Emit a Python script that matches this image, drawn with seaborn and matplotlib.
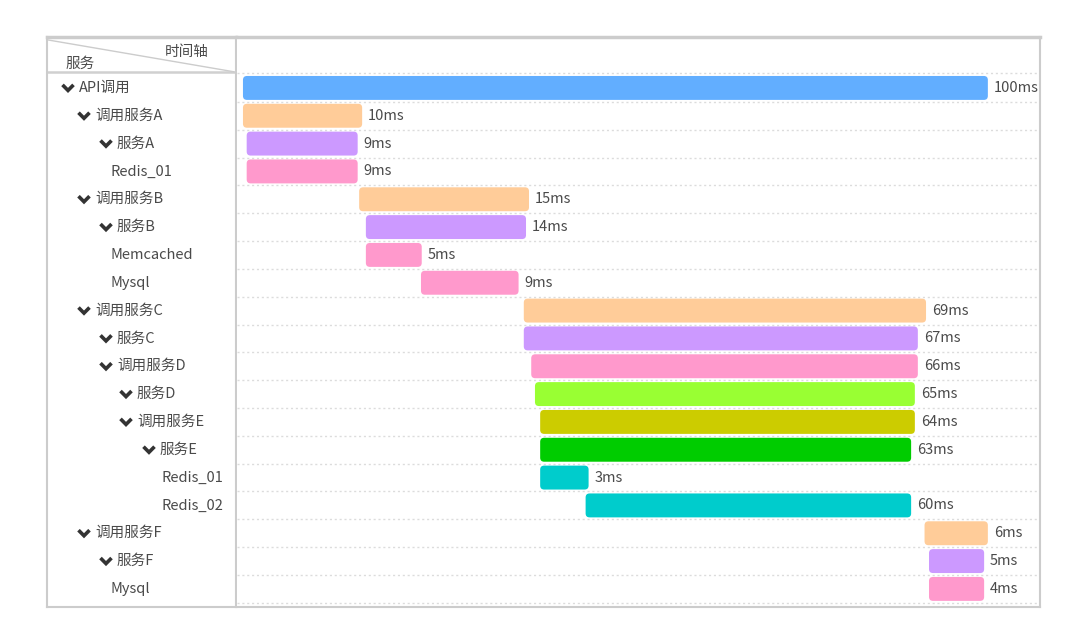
import pandas as pd
import matplotlib
matplotlib.use("Agg")
import matplotlib.pyplot as plt
from matplotlib.patches import FancyBboxPatch
import seaborn as sns

# span tree (label, depth, has children)
labels = ["API调用", "调用服务A", "服务A", "Redis_01", "调用服务B", "服务B", "Memcached", "Mysql",
          "调用服务C", "服务C", "调用服务D", "服务D", "调用服务E", "服务E", "Redis_01", "Redis_02",
          "调用服务F", "服务F", "Mysql"]
depth = [0, 1, 2, 3, 1, 2, 3, 3, 1, 2, 2, 3, 3, 4, 5, 5, 1, 2, 3]
has_children = [1, 1, 1, 0, 1, 1, 0, 0, 1, 1, 1, 1, 1, 1, 0, 0, 1, 1, 0]

# bar extents on the time axis (as drawn) and the duration text shown
start = [0, 0, 0.5, 0.5, 15.6, 16.5, 16.5, 23.9, 37.7, 37.7, 38.7, 39.2, 39.9, 39.9, 39.9, 46.0, 91.5, 92.1, 92.1]
end = [100, 16.0, 15.4, 15.4, 38.4, 38.0, 24.0, 37.0, 91.7, 90.6, 90.6, 90.2, 90.2, 89.7, 46.4, 89.7, 100, 99.5, 99.5]
duration = ["100ms", "10ms", "9ms", "9ms", "15ms", "14ms", "5ms", "9ms", "69ms", "67ms", "66ms",
            "65ms", "64ms", "63ms", "3ms", "60ms", "6ms", "5ms", "4ms"]
colors = ["#62AEFF", "#FFCC99", "#CC99FF", "#FF99CC", "#FFCC99", "#CC99FF", "#FF99CC", "#FF99CC",
          "#FFCC99", "#CC99FF", "#FF99CC", "#99FF33", "#CCCC00", "#00CC00", "#00CCCC", "#00CCCC",
          "#FFCC99", "#CC99FF", "#FF99CC"]

df = pd.DataFrame({"rid": [str(i) for i in range(len(labels))], "start": start, "end": end})

sns.set_theme(style="white")
plt.rcParams["font.family"] = ["Noto Sans CJK SC", "DejaVu Sans"]

W, H = 1078, 622
fig = plt.figure(figsize=(W / 100, H / 100), dpi=100)
ax_l = fig.add_axes([47 / W, 15 / H, 189 / W, 570 / H])
ax = fig.add_axes([237 / W, 15 / H, 803 / W, 570 / H])

ylim = (18.65, -1.83)
txt = "#4a4a4a"
grid_c = "#dcdcdc"
fs = 10.5

# ---- timeline bars ----
sns.barplot(data=df, x="end", y="rid", hue="rid", palette=colors, legend=False,
            orient="h", width=0.86, ax=ax)
x_units_per_px = (107.0 + 0.8) / 803
y_units_per_px = (ylim[0] - ylim[1]) / 570
for p in list(ax.patches):
    i = int(round(p.get_y() + p.get_height() / 2))
    fb = FancyBboxPatch((start[i], p.get_y()), end[i] - start[i], p.get_height(),
                        boxstyle="round,pad=0,rounding_size=%f" % (4 * x_units_per_px),
                        mutation_aspect=y_units_per_px / x_units_per_px,
                        facecolor=colors[i], edgecolor="none", zorder=3)
    p.remove()
    ax.add_patch(fb)
    ax.text(end[i] + 0.8, i, duration[i], va="center", ha="left", fontsize=fs, color=txt)

for k in range(len(labels) + 1):
    ax.axhline(k - 0.5 - (0.05 if k == 0 else 0), color=grid_c, lw=1, ls=(0, (1.5, 2)), zorder=1)

ax.set_xlim(-0.8, 107.0)
ax.set_ylim(*ylim)
ax.set_xlabel("")
ax.set_ylabel("")
ax.set_xticks([])
ax.set_yticks([])
for s in ax.spines.values():
    s.set_color("#cccccc")
    s.set_linewidth(1.5)
ax.spines["left"].set_visible(False)
ax.spines["top"].set_linewidth(2.5)

# ---- service tree ----
ax_l.set_xlim(47, 236)
ax_l.set_ylim(*ylim)
ax_l.set_xticks([])
ax_l.set_yticks([])
for s in ax_l.spines.values():
    s.set_color("#cccccc")
    s.set_linewidth(1.5)
ax_l.spines["top"].set_linewidth(2.5)

hdr = -0.58
ax_l.plot([47, 236], [hdr, hdr], color="#d0d0d0", lw=1.8)
ax_l.plot([47, 234], [-1.73, hdr], color="#cccccc", lw=1)
ax_l.text(187, -1.29, "时间轴", ha="center", va="center", fontsize=fs, color=txt)
ax_l.text(80, -0.88, "服务", ha="center", va="center", fontsize=fs, color=txt)

text_x = [79, 95, 117, 137, 160]
leaf_x = {3: 111, 5: 162}
for i, lab in enumerate(labels):
    d = depth[i]
    if has_children[i]:
        tx = text_x[d]
        cx = tx - 11
        ax_l.plot([cx - 5.5, cx, cx + 5.5], [i - 0.11, i + 0.09, i - 0.11], color="#333333",
                  lw=2.6, solid_capstyle="butt", solid_joinstyle="miter")
    else:
        tx = leaf_x[d]
    ax_l.text(tx, i, lab, ha="left", va="center", fontsize=fs, color=txt)

fig.savefig("out.png", dpi=100)
